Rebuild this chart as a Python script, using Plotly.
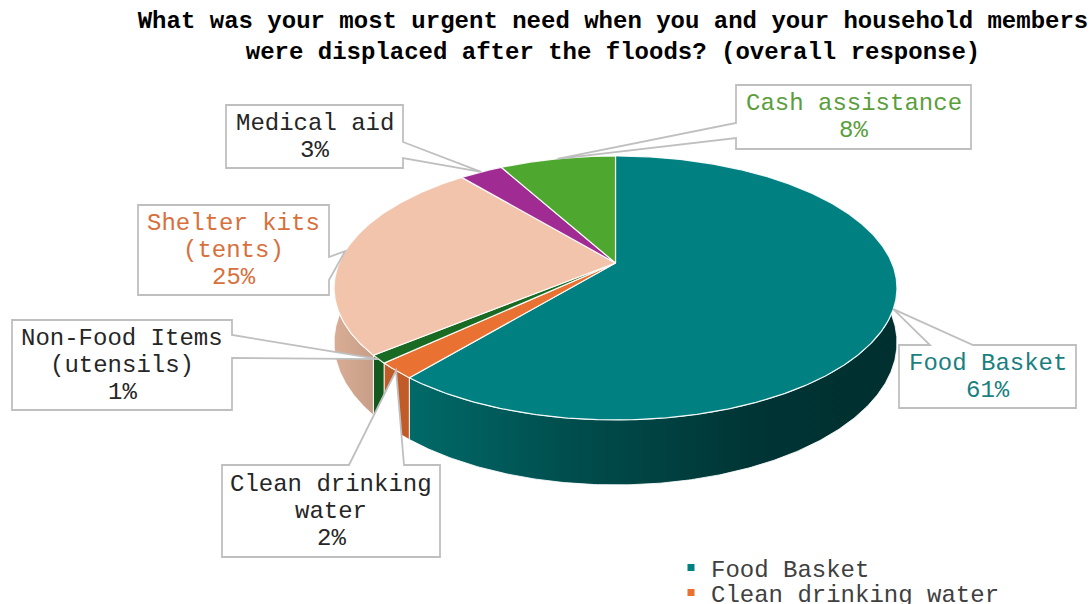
import math
import plotly.graph_objects as go

# ---- data -------------------------------------------------------------
categories = [
    "Food Basket",
    "Clean drinking water",
    "Non-Food Items (utensils)",
    "Shelter kits (tents)",
    "Medical aid",
    "Cash assistance",
]
label_lines = [
    ["Food Basket"],
    ["Clean drinking", "water"],
    ["Non-Food Items", "(utensils)"],
    ["Shelter kits", "(tents)"],
    ["Medical aid"],
    ["Cash assistance"],
]
shares = [61, 2, 1, 25, 3, 8]  # % of respondents

# ---- styling ------------------------------------------------------------
top_colors = ["#008080", "#E97132", "#196B24", "#F2C4AC", "#A02B93", "#4EA72E"]
wall_colors = ["#005555", "#C15B27", "#145A1E", "#D5A991", "#7E2174", "#3D8624"]
text_colors = ["#1A7F7F", "#262626", "#262626", "#D8703C", "#262626", "#5A9E3C"]
FONT = "Liberation Mono, Courier New, monospace"

W, H = 1091, 604

# projection of the tilted disc (pixel-like units on hidden axes)
CX, CY = 615.5, 263.0
RX, RY = 276.4, 127.3
PERSP = 0.189
DEPTH = 52.7


def project(theta, drop=0.0):
    t = math.radians(theta)
    u, v = math.sin(t), math.cos(t)
    s = 1.0 + PERSP * v
    return CX + RX * u / s, CY - RY * v / s + drop / s


def arc(a0, a1, drop=0.0, step=0.5):
    n = max(2, int(abs(a1 - a0) / step) + 1)
    pts = [project(a0 + (a1 - a0) * i / (n - 1), drop) for i in range(n)]
    return [p[0] for p in pts], [p[1] for p in pts]


total = float(sum(shares))
bounds = [0.0]
for v in shares:
    bounds.append(bounds[-1] + 360.0 * v / total)

fig = go.Figure()

# side walls (front half of the disc)
for i, name in enumerate(categories):
    lo, hi = max(bounds[i], 90.0), min(bounds[i + 1], 270.0)
    if lo >= hi:
        continue
    tx, ty = arc(lo, hi)
    bx, by = arc(hi, lo, drop=DEPTH)
    trace = dict(
        x=tx + bx + [tx[0]], y=ty + by + [ty[0]],
        mode="lines", fill="toself", fillcolor=wall_colors[i],
        line=dict(color="rgba(255,255,255,0.85)", width=1),
        hoverinfo="skip", showlegend=False,
    )
    if i == 0:
        trace["fillgradient"] = dict(
            type="horizontal",
            colorscale=[[0, "#006a68"], [0.35, "#004c4c"], [0.7, "#003535"], [1, "#002f2f"]],
        )
    elif i == 3:
        trace["fillgradient"] = dict(
            type="horizontal", colorscale=[[0, "#D9AD95"], [1, "#C89E88"]]
        )
    fig.add_trace(go.Scatter(**trace))

# top faces
for i, name in enumerate(categories):
    ax_, ay_ = arc(bounds[i], bounds[i + 1])
    fig.add_trace(go.Scatter(
        x=[CX] + ax_ + [CX], y=[CY] + ay_ + [CY],
        mode="lines", fill="toself", fillcolor=top_colors[i],
        line=dict(color="rgba(255,255,255,0.9)", width=1.2),
        name=name, hovertemplate=f"{name}: {shares[i]}%<extra></extra>",
        showlegend=False,
    ))

# legend entries, one row each
legend_ids = ["legend"] + [f"legend{k}" for k in range(2, len(categories) + 1)]
for i, name in enumerate(categories):
    fig.add_trace(go.Scatter(
        x=[None], y=[None], mode="markers", name=name,
        marker=dict(symbol="square", size=7, color=top_colors[i]),
        legend=legend_ids[i],
    ))

legend_layout = {}
for i, lid in enumerate(legend_ids):
    yc = 568 + 25 * i
    legend_layout[lid] = dict(
        x=671 / W, xanchor="left", y=1 - yc / H, yanchor="middle",
        font=dict(family=FONT, size=24, color="#404040"),
        bgcolor="rgba(0,0,0,0)", borderwidth=0, itemwidth=30,
    )

# data-label callouts: box (l, t, r, b), pointer side and its base span
callouts = [
    ((899, 345, 1076, 408), "top", (930, 973)),
    ((222, 465, 440, 557), "top", (349, 404)),
    ((12, 320, 232, 410), "right", (335, 358)),
    ((138, 205, 329, 295), "right", (257, 280)),
    ((226, 105, 403, 168), "right", (142, 158)),
    ((736, 85, 971, 149), "left", (123, 138)),
]

shapes, annotations = [], []
for i, (box, side, (p0, p1)) in enumerate(callouts):
    l, t, r, b = box
    mid = (bounds[i] + bounds[i + 1]) / 2.0
    tipx, tipy = project(mid)
    if side == "top":
        pts = [(l, t), (p0, t), (tipx, tipy), (p1, t), (r, t), (r, b), (l, b)]
    elif side == "right":
        pts = [(l, t), (r, t), (r, p0), (tipx, tipy), (r, p1), (r, b), (l, b)]
    else:
        pts = [(l, t), (r, t), (r, b), (l, b), (l, p1), (tipx, tipy), (l, p0)]
    path = "M " + " L ".join(f"{px:.1f},{py:.1f}" for px, py in pts) + " Z"
    shapes.append(dict(
        type="path", path=path, xref="x", yref="y", layer="above",
        fillcolor="white", line=dict(color="#BFBFBF", width=1.8),
    ))
    lines = label_lines[i] + [f"{shares[i]}%"]
    cy_box = (t + b) / 2.0
    for j, txt in enumerate(lines):
        annotations.append(dict(
            x=(l + r) / 2.0, y=cy_box + (j - (len(lines) - 1) / 2.0) * 27,
            xref="x", yref="y", text=txt, showarrow=False,
            xanchor="center", yanchor="middle",
            font=dict(family=FONT, size=24, color=text_colors[i]),
        ))

fig.update_layout(
    width=W, height=H,
    margin=dict(l=0, r=0, t=0, b=0, autoexpand=False),
    paper_bgcolor="white", plot_bgcolor="white",
    xaxis=dict(range=[0, W], visible=False, fixedrange=True),
    yaxis=dict(range=[H, 0], visible=False, fixedrange=True),
    title=dict(
        text="What was your most urgent need when you and your household members"
             "<br>were displaced after the floods? (overall response)",
        x=613 / W, xanchor="center", y=1 - 28 / H, yanchor="top",
        font=dict(family=FONT, size=24, color="#000000", weight="bold"),
    ),
    shapes=shapes,
    annotations=annotations,
    **legend_layout,
)

fig.write_html("out.html")
